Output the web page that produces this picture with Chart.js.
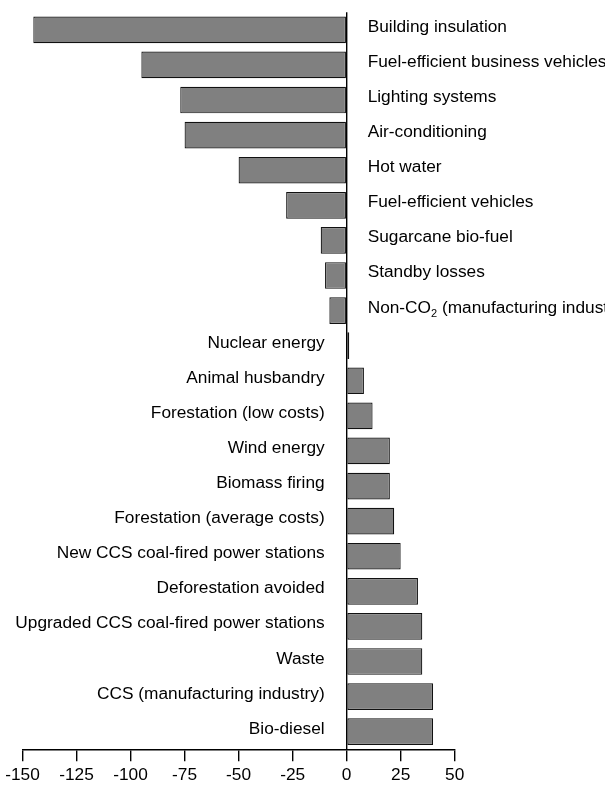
<!DOCTYPE html>
<html>
<head>
<meta charset="utf-8">
<script src="https://cdn.jsdelivr.net/npm/chart.js@4/dist/chart.umd.min.js"></script>
<style>
  html, body { margin: 0; padding: 0; background: #fff; }
  #wrap { width: 605px; height: 790px; }
</style>
</head>
<body>
<div id="wrap"><canvas id="abatementChart" width="605" height="790"></canvas></div>
<script>
const measures = [
  'Building insulation',
  'Fuel-efficient business vehicles',
  'Lighting systems',
  'Air-conditioning',
  'Hot water',
  'Fuel-efficient vehicles',
  'Sugarcane bio-fuel',
  'Standby losses',
  'Non-CO₂ (manufacturing industry)',
  'Nuclear energy',
  'Animal husbandry',
  'Forestation (low costs)',
  'Wind energy',
  'Biomass firing',
  'Forestation (average costs)',
  'New CCS coal-fired power stations',
  'Deforestation avoided',
  'Upgraded CCS coal-fired power stations',
  'Waste',
  'CCS (manufacturing industry)',
  'Bio-diesel'
];

const costs = [-145, -95, -77, -75, -50, -28, -12, -10, -8, 1.2, 8, 12, 20, 20, 22, 25, 33, 35, 35, 40, 40];

const xTicks = [-150, -125, -100, -75, -50, -25, 0, 25, 50];

const FAMILY = '"Liberation Sans", Arial, Helvetica, sans-serif';
const FONT = '17.3px ' + FAMILY;
const SUB_FONT = '11px ' + FAMILY;

// measure name next to the zero line, "₂" drawn as a real subscript
function drawLabel(ctx, text, x, y, align) {
  const parts = text.split('₂');
  ctx.font = FONT;
  if (parts.length === 1) {
    ctx.textAlign = align;
    ctx.fillText(text, x, y);
    return;
  }
  const w0 = ctx.measureText(parts[0]).width;
  const w2 = ctx.measureText(parts[1]).width;
  ctx.font = SUB_FONT;
  const w1 = ctx.measureText('2').width;
  const start = align === 'left' ? x : x - (w0 + w1 + w2);
  ctx.textAlign = 'left';
  ctx.font = FONT;
  ctx.fillText(parts[0], start, y);
  ctx.font = SUB_FONT;
  ctx.fillText('2', start + w0, y + 4);
  ctx.font = FONT;
  ctx.fillText(parts[1], start + w0 + w1, y);
}

const sideLabels = {
  id: 'sideLabels',
  afterDatasetsDraw(chart) {
    const ctx = chart.ctx;
    const xs = chart.scales.x;
    const ys = chart.scales.y;
    const x0 = xs.getPixelForValue(0);
    ctx.save();
    ctx.fillStyle = '#000';
    ctx.textBaseline = 'alphabetic';
    measures.forEach((name, i) => {
      const y = ys.getPixelForValue(i) + 2;
      if (costs[i] < 0) {
        drawLabel(ctx, name, x0 + 21, y, 'left');
      } else {
        drawLabel(ctx, name, x0 - 22, y, 'right');
      }
    });
    ctx.restore();
  }
};

new Chart(document.getElementById('abatementChart'), {
  type: 'bar',
  data: {
    labels: measures,
    datasets: [{
      data: costs,
      backgroundColor: '#808080',
      borderColor: '#111',
      borderWidth: 1.2,
      borderSkipped: false,
      barPercentage: 0.76,
      categoryPercentage: 1
    }]
  },
  options: {
    indexAxis: 'y',
    responsive: false,
    animation: false,
    events: [],
    layout: { padding: { left: 22.5, right: 150.3, top: 12.3, bottom: 0 } },
    plugins: {
      legend: { display: false },
      tooltip: { enabled: false }
    },
    scales: {
      x: {
        type: 'linear',
        min: -150,
        max: 50,
        afterBuildTicks: scale => { scale.ticks = xTicks.map(v => ({ value: v })); },
        ticks: {
          color: '#000',
          font: { family: FAMILY, size: 17.3 },
          padding: 4,
          maxRotation: 0
        },
        grid: {
          drawOnChartArea: true,
          drawTicks: true,
          tickLength: 12,
          color: c => (c.tick && c.tick.value === 0) ? '#000' : 'rgba(0,0,0,0)',
          tickColor: '#000',
          lineWidth: 1.4
        },
        border: { display: true, color: '#000', width: 1.4 }
      },
      y: {
        display: false
      }
    }
  },
  plugins: [sideLabels]
});
</script>
</body>
</html>
